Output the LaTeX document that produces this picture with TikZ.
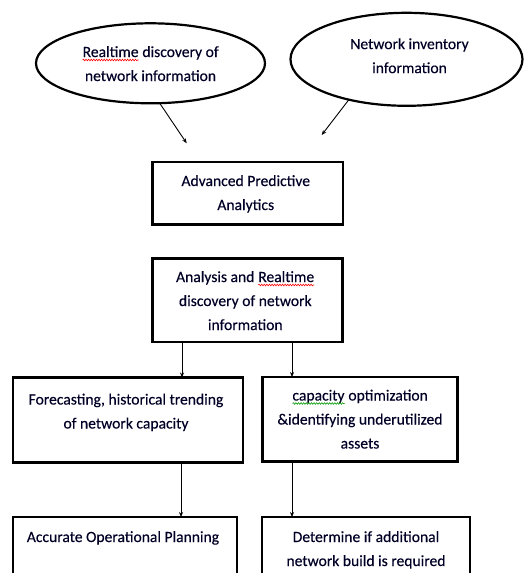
\documentclass[tikz,border=0pt]{standalone}
\usepackage{fontspec}
\setmainfont{Carlito}
\newfontfamily\txtfont{Carlito}[FakeBold=0.25]
\usetikzlibrary{shapes.geometric,arrows.meta,decorations.pathmorphing}
\newcommand\mainsize{\txtfont\fontsize{15.6}{24}\selectfont}
\newcommand\squig[2]{\tikz[x=1cm,y=1cm,baseline=(w.base)]{\node[inner sep=0pt,outer sep=0pt,anchor=center](w){#2};\draw[#1,line width=0.6pt,decorate,decoration={snake,amplitude=0.8pt,segment length=2.6pt}] ([yshift=-3pt]w.base west) -- ([yshift=-3pt]w.base east);}}
\tikzset{
  box/.style={draw, rectangle, line width=2.4pt, inner sep=0pt, outer sep=0pt},
  oval/.style={draw, ellipse, line width=2.2pt, inner sep=0pt, outer sep=0pt},
  txt/.style={inner sep=0pt, outer sep=0pt, align=center, font=\mainsize, anchor=north, text=black!85!blue},
  arr/.style={line width=0.9pt, -{Stealth[length=5pt,width=4pt]}}
}
\begin{document}
\begin{tikzpicture}[x=1pt,y=-1pt]
\useasboundingbox (0,0) rectangle (524,573);
\clip (0,0) rectangle (524,573);
\fill[white] (0,0) rectangle (524,573);
% ovals
\node[oval, minimum width=229pt, minimum height=80pt] (e1) at (150.5,63.3) {};
\node[oval, minimum width=232pt, minimum height=93pt] (e2) at (406.5,59.3) {};
\node[txt] (t1) at ([yshift=23.1pt]e1.center) {\strut\squig{red}{Realtime} discovery of\\network information};
\node[txt] (t2) at ([xshift=3pt,yshift=27pt]e2.center) {\strut Network inventory\\information};
% boxes
\node[box, minimum width=190.5pt, minimum height=62.5pt] (b1) at (247.75,193.25) {};
\node[box, minimum width=190pt, minimum height=83.4pt] (b2) at (247.3,300) {};
\node[box, minimum width=230pt, minimum height=85pt] (b3) at (128,420) {};
\node[box, minimum width=195pt, minimum height=84.5pt] (b4) at (360,419.25) {};
\node[box, minimum width=224pt, minimum height=83pt] (b5) at (125,558.5) {};
\node[box, minimum width=208pt, minimum height=83pt] (b6) at (366,558.5) {};
\node[txt] (t3) at ([xshift=-2pt,yshift=-7.2pt]b1.north) {\strut Advanced Predictive\\Analytics};
\node[txt] (t4) at ([xshift=-2pt,yshift=-6.9pt]b2.north) {\strut Analysis and \squig{red}{Realtime}\\discovery of network\\information};
\node[txt] (t5) at ([xshift=-2pt,yshift=-10.2pt]b3.north) {\strut Forecasting, historical trending\\of network capacity};
\node[txt] (t6) at ([yshift=-6.7pt]b4.north) {\strut\squig{green!60!black}{capacity} optimization\\\&identifying underutilized\\assets};
\node[txt] (t7) at ([xshift=-2pt,yshift=-8.2pt]b5.north) {\strut Accurate Operational Planning};
\node[txt] (t8) at ([yshift=-8.2pt]b6.north) {\strut Determine if additional\\network build is required};
% arrows
\coordinate (p1) at (186.7,143.3);
\coordinate (p2) at (321.7,135);
\draw[arr] (e1.-77) -- (p1);
\draw[arr] (e2.-145.4) -- (p2);
\draw[arr] ([xshift=-65.3pt]b2.south) -- ([xshift=-65.3pt]b2.south |- b3.north);
\draw[arr] ([xshift=44.7pt]b2.south) -- ([xshift=44.7pt]b2.south |- b4.north);
\draw[arr] ([xshift=53pt]b3.south) -- ([xshift=53pt]b3.south |- b5.north);
\draw[arr] ([xshift=-68pt]b4.south) -- ([xshift=-68pt]b4.south |- b6.north);
\end{tikzpicture}
\end{document}
